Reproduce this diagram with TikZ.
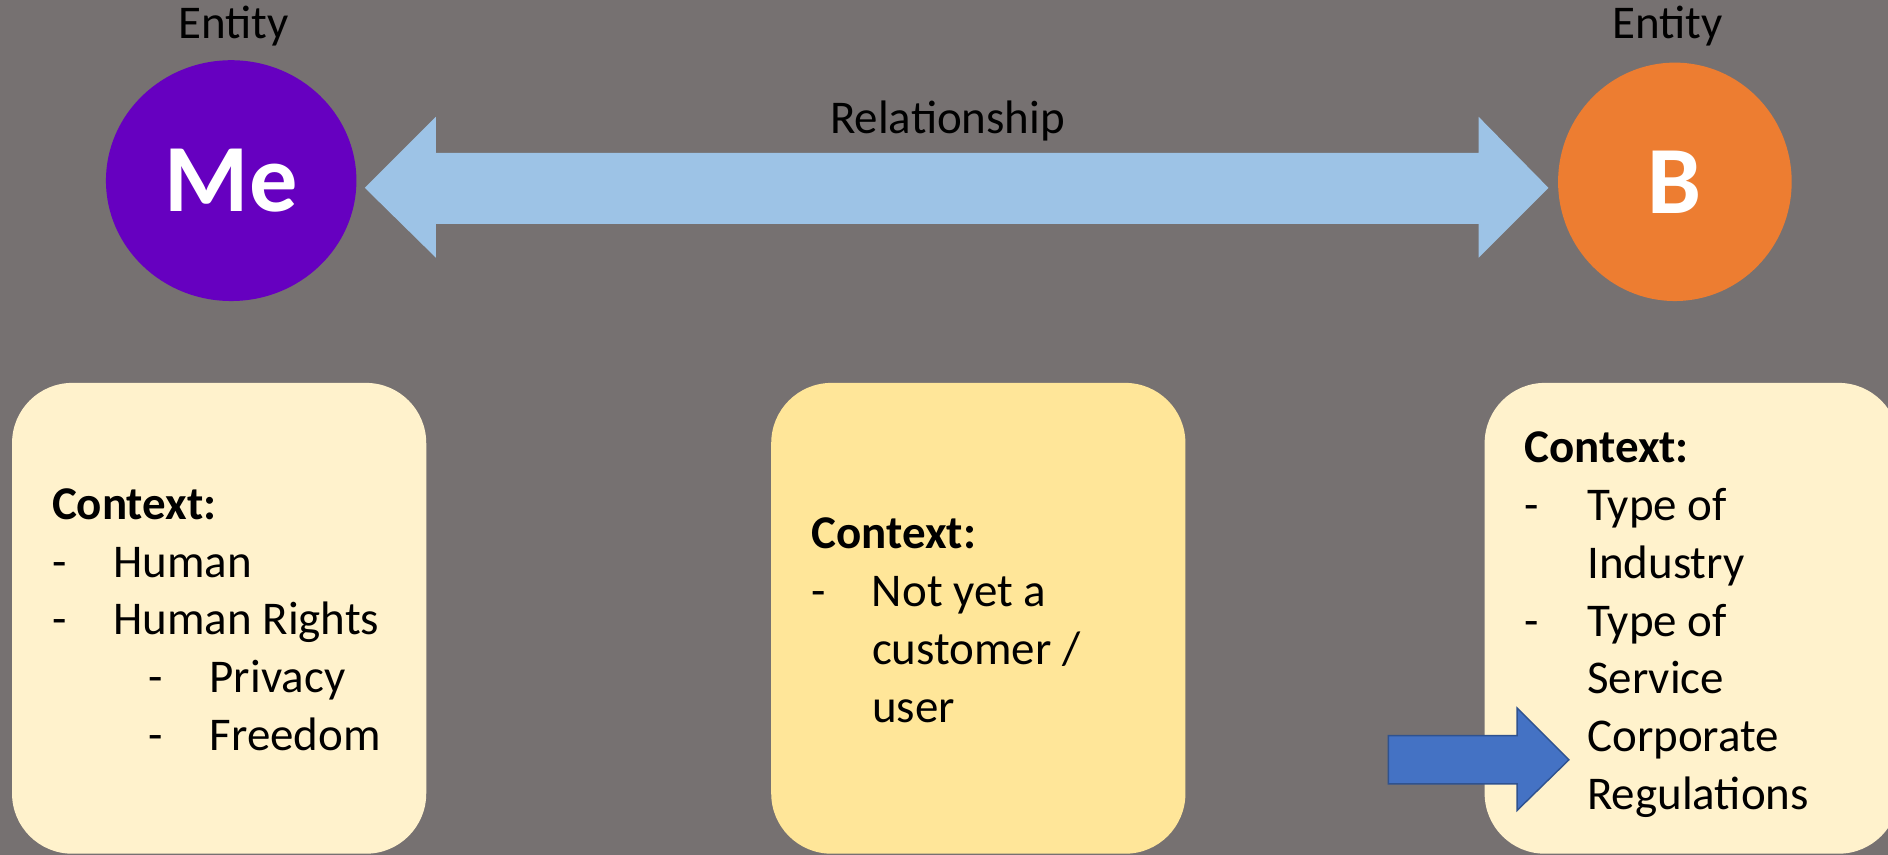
\documentclass[tikz,border=0pt]{standalone}
\usepackage{fontspec}
\setmainfont{Carlito}
\usetikzlibrary{shapes.geometric}
\definecolor{slidegray}{HTML}{767171}
\definecolor{mepurple}{HTML}{6600C0}
\definecolor{borange}{HTML}{ED7D31}
\definecolor{relblue}{HTML}{9DC3E6}
\definecolor{paleyellow}{HTML}{FFF2CC}
\definecolor{goldyellow}{HTML}{FFE699}
\definecolor{pointblue}{HTML}{4472C4}
\definecolor{pointedge}{HTML}{2F528F}
\tikzset{
  entity/.style={ellipse, inner sep=0pt, text=white, font=\fontsize{80}{90}\selectfont\bfseries},
  ctxbox/.style={rectangle, rounded corners=50pt, minimum width=344pt, minimum height=391pt, inner sep=0pt},
  ctxtext/.style={anchor=north west, align=left, inner sep=0pt},
}
\begin{document}
\begin{tikzpicture}[x=1pt, y=-1pt, font=\fontsize{39}{48}\selectfont]
  \useasboundingbox (0,0) rectangle (1568,710);
  \fill[slidegray] (0,0) rectangle (1568,710);

  % entities
  \node[entity, fill=mepurple, minimum width=208pt, minimum height=200pt] (me) at (192,150) {Me};
  \node[entity, fill=borange, minimum width=194pt, minimum height=198pt] (b) at (1391,151) {B};
  \node[anchor=base] (melabel) at (194,32) {Entity};
  \node[anchor=base] (blabel) at (1385,32) {Entity};

  % relationship
  \fill[relblue] (303,156) -- (362,97) -- (362,127) -- (1228,127) -- (1228,97) -- (1286,156)
    -- (1228,214) -- (1228,186) -- (362,186) -- (362,214) -- cycle;
  \node[anchor=base] (rellabel) at (787,111) {Relationship};

  % context boxes
  \node[ctxbox, fill=paleyellow] (boxme) at (182,513.5) {};
  \node[ctxbox, fill=goldyellow] (boxrel) at (812.5,513.5) {};
  \node[ctxbox, fill=paleyellow] (boxb) at (1405,513.5) {};

  \node[ctxtext] (ctxme) at (43,405.5) {\textbf{Context:}\\
    \makebox[51pt][l]{-}Human\\
    \makebox[51pt][l]{-}Human Rights\\
    \hspace*{80pt}\makebox[51pt][l]{-}Privacy\\
    \hspace*{80pt}\makebox[51pt][l]{-}Freedom};
  \node[ctxtext] (ctxrel) at (674,430) {\textbf{Context:}\\
    \makebox[50pt][l]{-}Not yet a\\
    \hspace*{50pt}customer /\\
    \hspace*{50pt}user};
  \node[ctxtext] (ctxb) at (1266,358.5) {\textbf{Context:}\\
    \makebox[52pt][l]{-}Type of\\
    \hspace*{52pt}Industry\\
    \makebox[52pt][l]{-}Type of\\
    \hspace*{52pt}Service\\
    \hspace*{52pt}Corporate\\
    \hspace*{52pt}Regulations};

  % pointer
  \filldraw[fill=pointblue, draw=pointedge, line width=1.2pt] (1153,611) -- (1260,611) -- (1260,588)
    -- (1303,631) -- (1260,673) -- (1260,651) -- (1153,651) -- cycle;
\end{tikzpicture}
\end{document}
